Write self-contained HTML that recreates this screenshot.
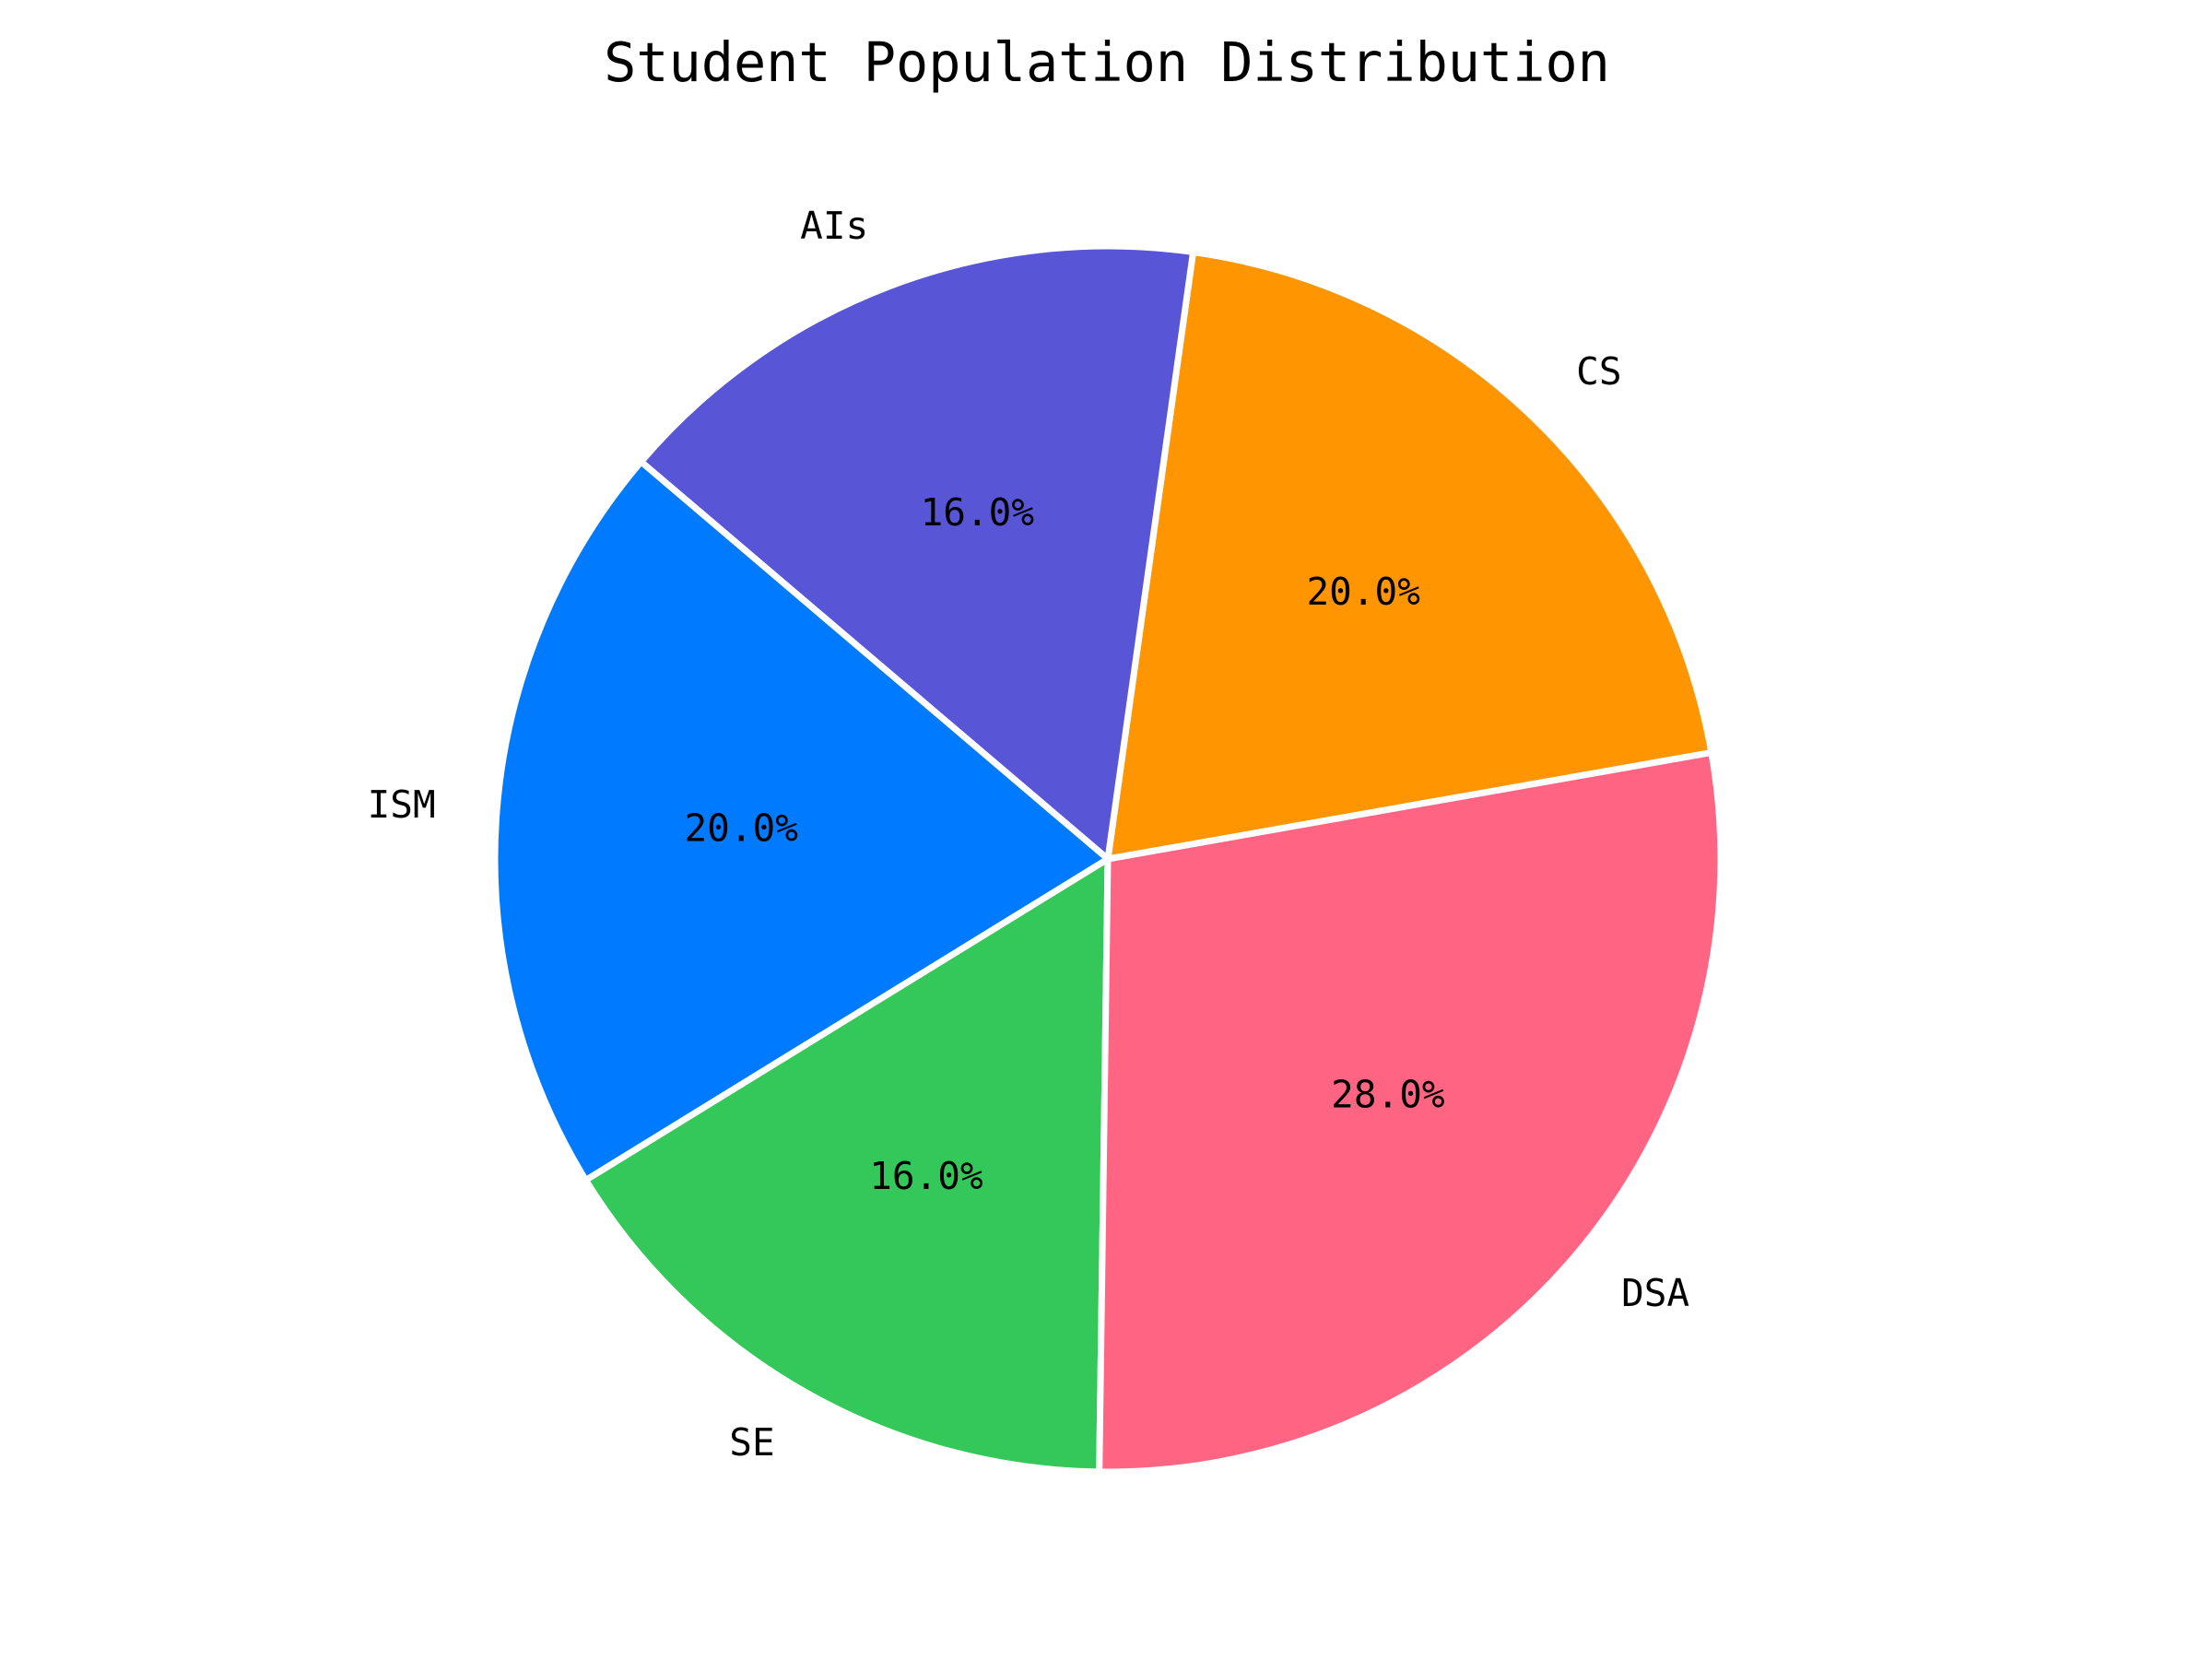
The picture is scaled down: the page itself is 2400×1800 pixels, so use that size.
<!DOCTYPE html>
<html><head><meta charset="utf-8"><style>
html,body{margin:0;padding:0;background:#fff;}
svg{display:block;}
text{font-family:"DejaVu Sans Mono","Liberation Mono",monospace;fill:#000;}
</style></head><body>
<svg id="chart" width="2400" height="1800" viewBox="0 0 2400 1800" xmlns="http://www.w3.org/2000/svg">
<rect width="2400" height="1800" fill="#fff"/>
<text x="1201" y="72" font-size="58.5" text-anchor="middle" dominant-baseline="middle">Student Population Distribution</text>
<g id="slices"></g>
<g id="labels"></g>
</svg>
<script>
const categories = ["CS", "AIs", "ISM", "SE", "DSA"];
const values = [20, 16, 20, 16, 28];
const colors = ["#FF9500", "#5856D6", "#007AFF", "#34C759", "#FF6482"];
const startAngle = 10;
const cx = 1202, cy = 932, R = 665;
const NS = "http://www.w3.org/2000/svg";
const total = values.reduce((a,b)=>a+b,0);
const gS = document.getElementById('slices');
const gL = document.getElementById('labels');
function pt(deg, r){const a=deg*Math.PI/180;return [cx+r*Math.cos(a), cy-r*Math.sin(a)];}
let ang = startAngle;
values.forEach((v,i)=>{
  const sweep = v/total*360;
  const a0 = ang, a1 = ang+sweep;
  const p0 = pt(a0,R), p1 = pt(a1,R);
  const large = sweep>180?1:0;
  const path = document.createElementNS(NS,'path');
  path.setAttribute('d',`M${cx},${cy} L${p0[0]},${p0[1]} A${R},${R} 0 ${large} 0 ${p1[0]},${p1[1]} Z`);
  path.setAttribute('fill',colors[i]);
  path.setAttribute('stroke','#fff');
  path.setAttribute('stroke-width','7');
  path.setAttribute('stroke-linejoin','round');
  
  
  gS.appendChild(path);
  const mid = (a0+a1)/2;
  const lp = pt(mid, R*1.1);
  const t = document.createElementNS(NS,'text');
  t.setAttribute('x',lp[0]); t.setAttribute('y',lp[1]);
  t.setAttribute('font-size','41');
  t.setAttribute('dominant-baseline','middle');
  t.setAttribute('text-anchor', Math.cos(mid*Math.PI/180)>=0?'start':'end');
  t.textContent = categories[i];
  
  
  gL.appendChild(t);
  const pp = pt(mid, R*0.6);
  const p = document.createElementNS(NS,'text');
  p.setAttribute('x',pp[0]); p.setAttribute('y',pp[1]);
  p.setAttribute('font-size','41');
  p.setAttribute('dominant-baseline','middle');
  p.setAttribute('text-anchor','middle');
  p.textContent = (v/total*100).toFixed(1)+'%';
  
  
  gL.appendChild(p);
  ang = a1;
});
</script>
</body></html>
